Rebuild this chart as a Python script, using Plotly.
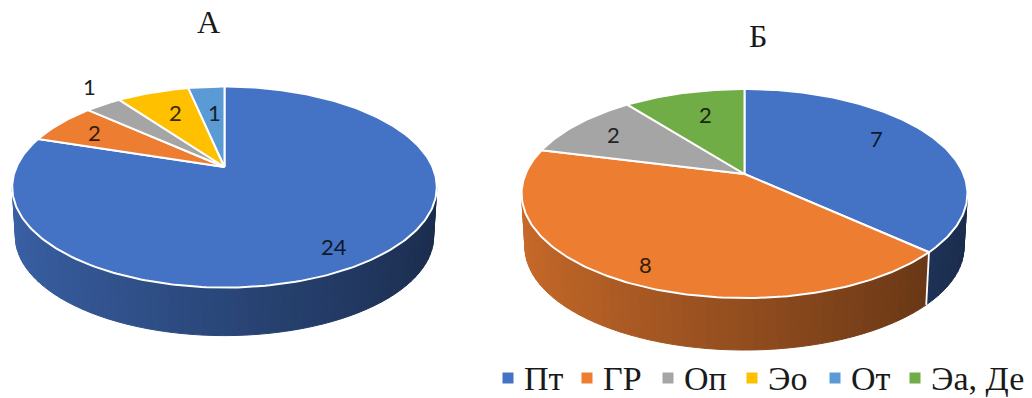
import math
import plotly.graph_objects as go

# Survey counts per category for the two groups
CATEGORIES = ["Пт", "ГР", "Оп", "Эо", "От", "Эа, Де"]
VALUES_A = [24, 2, 1, 2, 1, 0]
VALUES_B = [7, 8, 2, 0, 0, 2]
COLORS = ["#4472C4", "#ED7D31", "#A5A5A5", "#FFC000", "#5B9BD5", "#70AD47"]

W, H = 1032, 398
SERIF = "Liberation Serif"
LABEL_FONT = "Lato"

# Pixel geometry of each tilted disc: apex of the slices, projected radii,
# perspective strength, height of the rim and shrink of the lower edge.
PIE_A = dict(cx=224.5, ay=167, rx=208, ry=96.5, k=0.2, depth=49.5, shrink=0.985, ey=187)
PIE_B = dict(cx=744.5, ay=174, rx=219, ry=100.9, k=0.187, depth=53.5, shrink=0.985, ey=193.5)

# Data label placement: radial fraction along the slice bisector plus a pixel nudge
LABELS_A = {0: (0.78, 0, 10), 1: (0.78, 0, 0), 2: (1.13, 0, -11), 3: (0.65, 0, -3), 4: (0.63, 2, -1)}
LABELS_B = {0: (0.69, 0, -9), 1: (0.82, 0, 6), 2: (0.77, 0, 0), 5: (0.6, 0, -8)}

# Hand-laid legend row: swatch centres and the baseline height of the row
LEGEND_SWATCH_X = [508, 587, 668, 752, 835, 915]
LEGEND_TEXT_GAP = 16
LEGEND_Y = 378

SHADE_LEFT, SHADE_RIGHT = 0.85, 0.38
STRIP_DEG = 2.5


def project(p, angle, r=1.0):
    """Map a point of the flat disc onto the screen with a simple perspective."""
    u, v = r * math.cos(angle), r * math.sin(angle)
    w = 1 + p["k"] * v
    return p["cx"] + p["rx"] * u / w, p["ay"] - p["ry"] * v / w


def project_low(p, angle):
    """Same point on the lower edge of the rim."""
    x, y = project(p, angle)
    return (p["cx"] + p["shrink"] * (x - p["cx"]),
            p["ey"] + p["depth"] + p["shrink"] * (y - p["ey"]))


def hex_rgb(c):
    return tuple(int(c[i:i + 2], 16) for i in (1, 3, 5))


def shaded(c, f):
    r, g, b = hex_rgb(c)
    return f"rgb({r * f:.0f},{g * f:.0f},{b * f:.0f})"


def slice_spans(values):
    """Yield (index, start, end) angles, clockwise from twelve o'clock, in radians."""
    total = sum(values)
    run = 0
    for i, v in enumerate(values):
        if v == 0:
            continue
        a0 = math.pi / 2 - 2 * math.pi * run / total
        run += v
        a1 = math.pi / 2 - 2 * math.pi * run / total
        yield i, a0, a1


def add_pie(fig, values, p, labels, annotations):
    spans = list(slice_spans(values))
    tangent = math.asin(p["k"])
    vis_lo, vis_hi = -math.pi + tangent, -tangent

    # Rim: narrow strips, darkening from left to right
    for i, a0, a1 in spans:
        lo, hi = a1, a0
        # normalise the slice into the (-2pi, pi/2] turn and test both wraps
        for off in (0, 2 * math.pi, -2 * math.pi):
            s, e = max(lo + off, vis_lo), min(hi + off, vis_hi)
            if e <= s:
                continue
            n = max(1, int(math.degrees(e - s) / STRIP_DEG))
            for j in range(n):
                t0 = s + (e - s) * j / n
                t1 = s + (e - s) * (j + 1) / n
                top0, top1 = project(p, t0), project(p, t1)
                low0, low1 = project_low(p, t0), project_low(p, t1)
                frac = (math.cos((t0 + t1) / 2) + 1) / 2
                col = shaded(COLORS[i], SHADE_LEFT + (SHADE_RIGHT - SHADE_LEFT) * frac)
                fig.add_trace(go.Scatter(
                    x=[top0[0], top1[0], low1[0], low0[0], top0[0]],
                    y=[top0[1], top1[1], low1[1], low0[1], top0[1]],
                    mode="lines", fill="toself", fillcolor=col,
                    line=dict(color=col, width=1),
                    hoverinfo="skip", showlegend=False))

    # White seams on the rim where two slices meet
    for i, a0, a1 in spans:
        norm = (a0 + 2 * math.pi) % (2 * math.pi) - 2 * math.pi
        if vis_lo < norm < vis_hi:
            top, low = project(p, norm), project_low(p, norm)
            fig.add_trace(go.Scatter(
                x=[top[0], low[0]], y=[top[1], low[1]], mode="lines",
                line=dict(color="white", width=1.8),
                hoverinfo="skip", showlegend=False))

    # Top face of every slice
    for i, a0, a1 in spans:
        n = max(2, int(math.degrees(a0 - a1)))
        pts = [project(p, a0 + (a1 - a0) * j / n) for j in range(n + 1)]
        apex = project(p, 0, 0)
        xs = [apex[0]] + [q[0] for q in pts] + [apex[0]]
        ys = [apex[1]] + [q[1] for q in pts] + [apex[1]]
        fig.add_trace(go.Scatter(
            x=xs, y=ys, mode="lines", fill="toself", fillcolor=COLORS[i],
            line=dict(color="white", width=2), name=CATEGORIES[i],
            hoverinfo="name+text", text=[str(values[i])] * len(xs), showlegend=False))

    # Value labels on the slices
    for i, a0, a1 in spans:
        r, dx, dy = labels[i]
        x, y = project(p, (a0 + a1) / 2, r)
        outside = r > 1
        annotations.append(dict(
            x=x, y=y, xref="x", yref="y", xshift=dx, yshift=-dy, showarrow=False,
            text=str(values[i]),
            font=dict(family=LABEL_FONT, size=22,
                      color="#222222" if outside else shaded(COLORS[i], 0.22))))


fig = go.Figure()
notes = []
add_pie(fig, VALUES_A, PIE_A, LABELS_A, notes)
add_pie(fig, VALUES_B, PIE_B, LABELS_B, notes)

# Legend row: square swatch with the category name beside it
for name, col, sx in zip(CATEGORIES, COLORS, LEGEND_SWATCH_X):
    fig.add_trace(go.Scatter(
        x=[sx], y=[LEGEND_Y], mode="markers", name=name, showlegend=False,
        marker=dict(symbol="square", size=11, color=col), hoverinfo="name"))
    notes.append(dict(x=sx + LEGEND_TEXT_GAP, y=LEGEND_Y, xref="x", yref="y", xanchor="left",
                      xshift=-2, showarrow=False, text=name,
                      font=dict(family=SERIF, size=34, color="#1a1a1a")))

notes.append(dict(x=208, y=22, xref="x", yref="y", text="А", showarrow=False,
                  font=dict(family=SERIF, size=32, color="#1a1a1a")))
notes.append(dict(x=758, y=36, xref="x", yref="y", text="Б", showarrow=False,
                  font=dict(family=SERIF, size=32, color="#1a1a1a")))

fig.update_layout(
    width=W, height=H, autosize=False,
    margin=dict(l=0, r=0, t=0, b=0),
    paper_bgcolor="white", plot_bgcolor="white",
    xaxis=dict(range=[0, W], visible=False, fixedrange=True),
    yaxis=dict(range=[H, 0], visible=False, fixedrange=True),
    annotations=notes,
    showlegend=False,
)

fig.write_html("out.html")
